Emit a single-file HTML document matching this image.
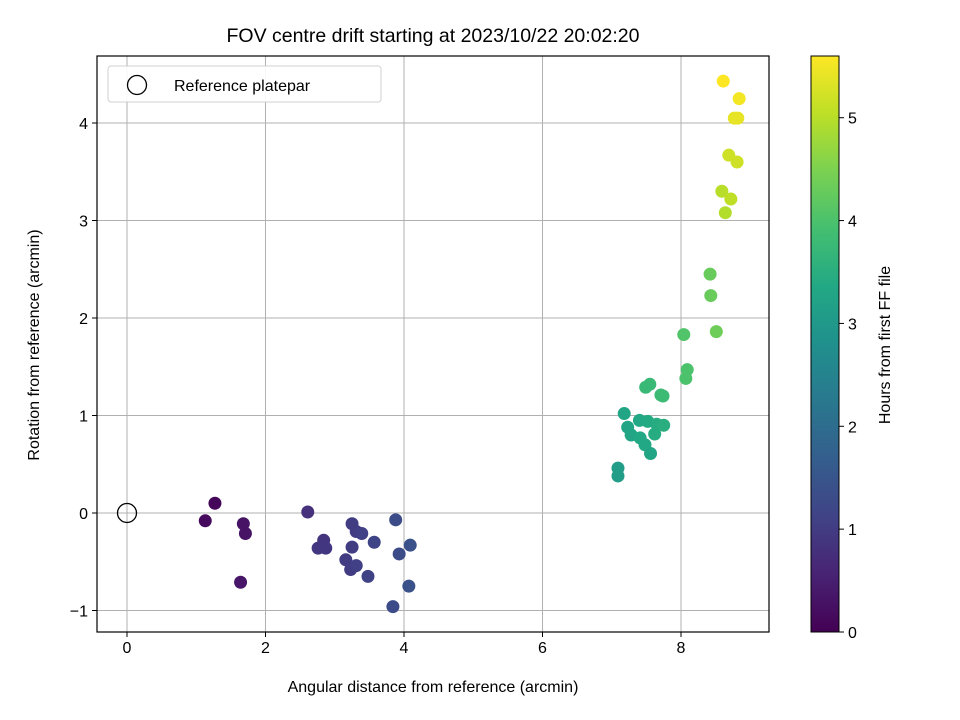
<!DOCTYPE html>
<html><head><meta charset="utf-8"><style>
body{margin:0;background:#fff;}
svg{display:block;font-family:"Liberation Sans","DejaVu Sans",sans-serif;}
</style></head><body>
<svg id="chart" width="960" height="720"></svg>
<script>
const xVals=[1.27,1.13,1.68,1.71,1.64,2.61,2.84,2.76,2.87,3.25,3.31,3.39,3.25,3.16,3.23,3.31,3.48,3.57,3.88,3.93,4.09,3.84,4.07,7.09,7.09,7.18,7.23,7.28,7.40,7.41,7.48,7.52,7.56,7.62,7.65,7.75,7.49,7.55,7.71,7.74,8.04,8.09,8.07,8.42,8.43,8.51,8.59,8.64,8.72,8.69,8.81,8.77,8.82,8.84,8.61];
const yVals=[0.10,-0.08,-0.11,-0.21,-0.71,0.01,-0.28,-0.36,-0.36,-0.11,-0.19,-0.21,-0.35,-0.48,-0.58,-0.54,-0.65,-0.30,-0.07,-0.42,-0.33,-0.96,-0.75,0.46,0.38,1.02,0.88,0.80,0.95,0.77,0.70,0.94,0.61,0.81,0.91,0.90,1.29,1.32,1.21,1.20,1.83,1.47,1.38,2.45,2.23,1.86,3.30,3.08,3.22,3.67,3.60,4.05,4.05,4.25,4.43];
const hours=[0.1,0.15,0.3,0.3,0.35,0.8,0.85,0.9,0.9,1.0,1.0,1.05,1.0,1.0,1.0,1.05,1.1,1.15,1.3,1.3,1.4,1.3,1.4,3.1,3.1,3.3,3.3,3.3,3.35,3.35,3.35,3.4,3.3,3.45,3.45,3.5,3.75,3.75,3.8,3.8,4.05,4.0,4.0,4.3,4.3,4.35,5.0,4.95,5.05,5.2,5.2,5.4,5.4,5.5,5.6];
const xTicks=[0,2,4,6,8];
const yTicks=[-1,0,1,2,3,4];
const cTicks=[0,1,2,3,4,5];
const L=97,R=769,T=56,B=632;
const sx=v=>127+v*69.25, sy=v=>513-v*97.5;
const cMax=5.6, cy=v=>632-v*((B-T)/cMax);
const vir=[[68,1,84],[72,35,116],[64,67,135],[52,94,141],[41,120,142],[32,144,141],[34,168,132],[68,191,112],[122,209,81],[189,223,38],[253,231,37]];
function col(t){t=Math.max(0,Math.min(1,t))*10;const i=Math.min(9,Math.floor(t)),f=t-i,a=vir[i],b=vir[i+1];
return `rgb(${a.map((c,k)=>Math.round(c+(b[k]-c)*f)).join(',')})`;}
const svg=document.getElementById('chart');const NS='http://www.w3.org/2000/svg';
function el(tag,attrs,name,text){const e=document.createElementNS(NS,tag);for(const k in attrs)e.setAttribute(k,attrs[k]);


if(text!==undefined)e.textContent=text;svg.appendChild(e);return e;}
xTicks.forEach(t=>{el('line',{x1:sx(t),x2:sx(t),y1:T,y2:B,stroke:'#b0b0b0','stroke-width':1},'x-grid-line');
el('line',{x1:sx(t),x2:sx(t),y1:B,y2:B+5,stroke:'#000'},'x-tick');
el('text',{x:sx(t),y:B+21,'text-anchor':'middle','font-size':16},'x-tick-label',t);});
yTicks.forEach(t=>{el('line',{x1:L,x2:R,y1:sy(t),y2:sy(t),stroke:'#b0b0b0','stroke-width':1},'y-grid-line');
el('line',{x1:L-5,x2:L,y1:sy(t),y2:sy(t),stroke:'#000'},'y-tick');
el('text',{x:L-9,y:sy(t)+6,'text-anchor':'end','font-size':16},'y-tick-label',t<0?'\u2212'+(-t):t);});
for(let i=0;i<xVals.length;i++){el('circle',{cx:sx(xVals[i]),cy:sy(yVals[i]),r:6.5,fill:col(hours[i]/cMax)},'data-point');}
el('circle',{cx:sx(0),cy:sy(0),r:9.5,fill:'none',stroke:'#000','stroke-width':1.3},'reference-platepar-marker');
el('rect',{x:L,y:T,width:R-L,height:B-T,fill:'none',stroke:'#000','stroke-width':1.2},'plot-frame');
el('rect',{x:108,y:66,width:273,height:36,rx:3,fill:'#fff',stroke:'#ccc',opacity:0.9},'legend-box');
el('circle',{cx:137,cy:85,r:9.5,fill:'none',stroke:'#000','stroke-width':1.3},'legend-marker');
el('text',{x:174,y:91,'font-size':16},'legend-label','Reference platepar');
el('text',{x:433,y:42,'text-anchor':'middle','font-size':19.5},'chart-title','FOV centre drift starting at 2023/10/22 20:02:20');
el('text',{x:433,y:692,'text-anchor':'middle','font-size':16},'x-axis-title','Angular distance from reference (arcmin)');
el('text',{x:39,y:345,'text-anchor':'middle','font-size':16,transform:'rotate(-90 39 345)'},'y-axis-title','Rotation from reference (arcmin)');
const defs=document.createElementNS(NS,'defs');const g=document.createElementNS(NS,'linearGradient');
g.setAttribute('id','vg');g.setAttribute('x1','0');g.setAttribute('y1','1');g.setAttribute('x2','0');g.setAttribute('y2','0');
vir.forEach((c,i)=>{const s=document.createElementNS(NS,'stop');s.setAttribute('offset',i/10);s.setAttribute('stop-color',`rgb(${c.join(',')})`);g.appendChild(s);});
defs.appendChild(g);svg.appendChild(defs);
el('rect',{x:811,y:T,width:28,height:B-T,fill:'url(#vg)',stroke:'#000','stroke-width':1},'colorbar');
cTicks.forEach(t=>{el('line',{x1:839,x2:844,y1:cy(t),y2:cy(t),stroke:'#000'},'colorbar-tick');
el('text',{x:848,y:cy(t)+6,'font-size':16},'colorbar-tick-label',t);});
el('text',{x:890,y:345,'text-anchor':'middle','font-size':16,transform:'rotate(-90 890 345)'},'colorbar-title','Hours from first FF file');
</script>
</body></html>
